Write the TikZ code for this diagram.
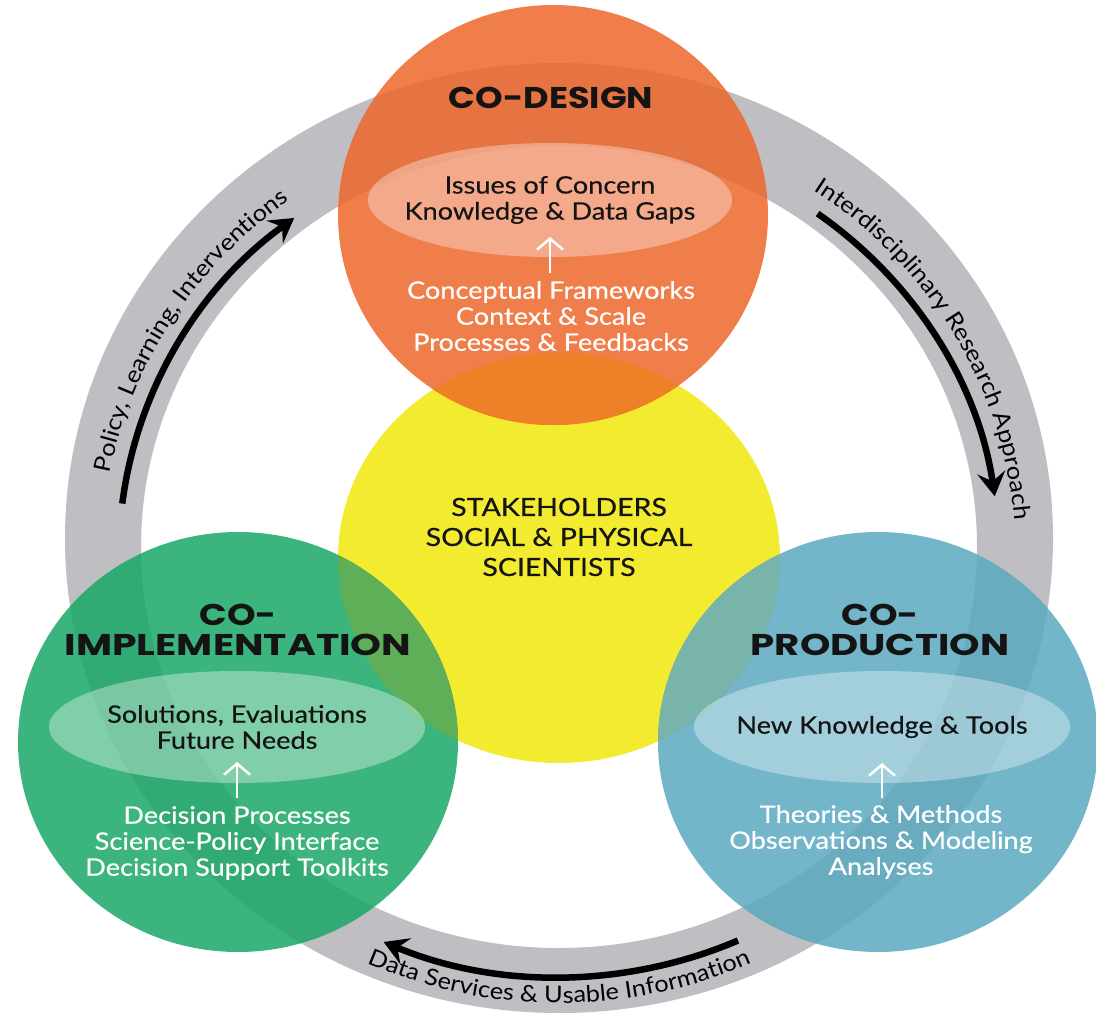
\documentclass[tikz,border=0pt]{standalone}
\usepackage{fontspec}
\usepackage{graphicx}
\setmainfont{Lato}
\newfontfamily\headfont{Poppins}
\newfontfamily\bodyfont{Lato}[FakeStretch=1.13, FakeBold=0.4]
\newfontfamily\stakefont{Lato}[FakeStretch=1.14, FakeBold=0.6]
\newfontfamily\ringfont{Lato}[FakeStretch=1.1]
\usetikzlibrary{arrows.meta,decorations.text}

\definecolor{ringgray}{RGB}{191,191,195}
\definecolor{cyellow}{RGB}{243,235,48}
\definecolor{corange}{RGB}{237,103,44}
\definecolor{cgreen}{RGB}{26,167,102}
\definecolor{cblue}{RGB}{90,169,192}
\definecolor{oyov}{RGB}{238,128,40}
\definecolor{gyov}{RGB}{95,175,88}
\definecolor{byov}{RGB}{121,180,170}
\definecolor{darktxt}{RGB}{20,20,20}
\definecolor{arctxt}{RGB}{30,30,30}

\newcommand\arcfont{\ringfont\fontsize{23}{26}\selectfont}
\newcommand\hs[2]{\scalebox{#1}[1]{#2}}

\begin{document}
\begin{tikzpicture}[x=1pt,y=1pt,
  headtxt/.style={font=\headfont\bfseries\fontsize{30}{30}\selectfont, text=darktxt, align=center, inner sep=0pt},
  blacktxt/.style={font=\bodyfont\fontsize{24}{26}\selectfont, text=darktxt, align=center, inner sep=0pt},
  whitetxt/.style={font=\bodyfont\fontsize{24}{26}\selectfont, text=white, align=center, inner sep=0pt},
  staketxt/.style={font=\stakefont\fontsize{25}{30}\selectfont, text=darktxt, align=center, inner sep=0pt},
  arcarrow/.style={line width=6.5pt, draw=black, -{Stealth[length=24pt,width=28pt,inset=9pt]}},
  uparrow/.style={line width=2.5pt, draw=white, -{Straight Barb[length=11pt,width=26pt]}},
  lightell/.style={fill=white, fill opacity=0.35}
]
\useasboundingbox (0,0) rectangle (1096,-1017);

% ring
\fill[ringgray, even odd rule] (559,-538) ellipse [x radius=494pt, y radius=475pt]
  (559,-547) ellipse [x radius=418pt, y radius=401pt];

% arrows on the ring
\coordinate (cen) at (559,-555);
\path (cen) ++(173:440pt and 422pt) coordinate (la0);
\path (cen) ++(54:440pt and 422pt) coordinate (ra0);
\path (cen) ++(-66:440pt and 422pt) coordinate (ba0);
\draw[arcarrow] (la0) arc[start angle=173, end angle=127, x radius=440pt, y radius=422pt];
\draw[arcarrow] (ra0) arc[start angle=54, end angle=8, x radius=440pt, y radius=422pt];
\draw[arcarrow] (ba0) arc[start angle=-66, end angle=-113.5, x radius=440pt, y radius=422pt];

% texts along the ring
\path (cen) ++(188:457pt and 439pt) coordinate (lt0);
\path (cen) ++(77.5:457pt and 439pt) coordinate (rt0);
\path (cen) ++(-135:466pt and 448pt) coordinate (bt0);
\begin{scope}
\arcfont\color{arctxt}
\path[decorate, decoration={text along path, text align=center,
  text={Policy, Learning, Interventions}}]
  (lt0) arc[start angle=188, end angle=108, x radius=457pt, y radius=439pt];
\path[decorate, decoration={text along path, text align=center,
  text={Interdisciplinary Research Approach}}]
  (rt0) arc[start angle=77.5, end angle=-17.5, x radius=457pt, y radius=439pt];
\path[decorate, decoration={text along path, text align=center,
  text={Data Services {\&} Usable Information}}]
  (bt0) arc[start angle=-135, end angle=-45, x radius=466pt, y radius=448pt];
\end{scope}

% circles
\fill[cyellow] (559,-558) ellipse [x radius=221pt, y radius=205pt];
\fill[corange, fill opacity=0.85] (553,-215) ellipse [x radius=215pt, y radius=210pt];
\fill[cgreen, fill opacity=0.85] (238,-742) ellipse [x radius=220pt, y radius=210pt];
\fill[cblue, fill opacity=0.85] (878,-742) ellipse [x radius=220pt, y radius=210pt];
\begin{scope}
  \clip (559,-558) ellipse [x radius=221pt, y radius=205pt];
  \fill[oyov] (553,-215) ellipse [x radius=215pt, y radius=210pt];
  \fill[gyov] (238,-742) ellipse [x radius=220pt, y radius=210pt];
  \fill[byov] (878,-742) ellipse [x radius=220pt, y radius=210pt];
\end{scope}

% light inner ellipses
\fill[lightell] (550,-200) ellipse [x radius=182pt, y radius=57pt];
\fill[lightell] (237,-727) ellipse [x radius=188pt, y radius=56pt];
\fill[lightell] (882,-727) ellipse [x radius=188pt, y radius=56pt];

% texts
\node[headtxt] (codesign) at (551,-98) {\hs{1.17}{CO-DESIGN}};
\node[blacktxt] (issues) at (550,-200) {Issues of Concern\\Knowledge \& Data Gaps};
\node[whitetxt] (concept) at (551,-316) {Conceptual Frameworks\\Context \& Scale\\Processes \& Feedbacks};
\node[staketxt] (stake) at (559,-537) {STAKEHOLDERS\\SOCIAL \& PHYSICAL\\SCIENTISTS};
\node[headtxt] (coimpl) at (238,-630) {\hs{1.21}{CO-}\\\hs{1.31}{IMPLEMENTATION}};
\node[blacktxt] (solut) at (237,-727) {Solutions, Evaluations\\Future Needs};
\node[whitetxt] (decis) at (237,-843) {Decision Processes\\Science-Policy Interface\\Decision Support Toolkits};
\node[headtxt] (coprod) at (880,-630) {\hs{1.21}{CO-}\\\hs{1.29}{PRODUCTION}};
\node[blacktxt] (newk) at (882,-727) {New Knowledge \& Tools};
\node[whitetxt] (theor) at (881,-842) {Theories \& Methods\\Observations \& Modeling\\Analyses};

% white up arrows
\coordinate (oa0) at (550,-273);
\coordinate (oa1) at (550,-237);
\coordinate (ga0) at (237,-798);
\coordinate (ga1) at (237,-762);
\coordinate (pa0) at (882,-798);
\coordinate (pa1) at (882,-763);
\draw[uparrow] (oa0) -- (oa1);
\draw[uparrow] (ga0) -- (ga1);
\draw[uparrow] (pa0) -- (pa1);
\end{tikzpicture}
\end{document}
